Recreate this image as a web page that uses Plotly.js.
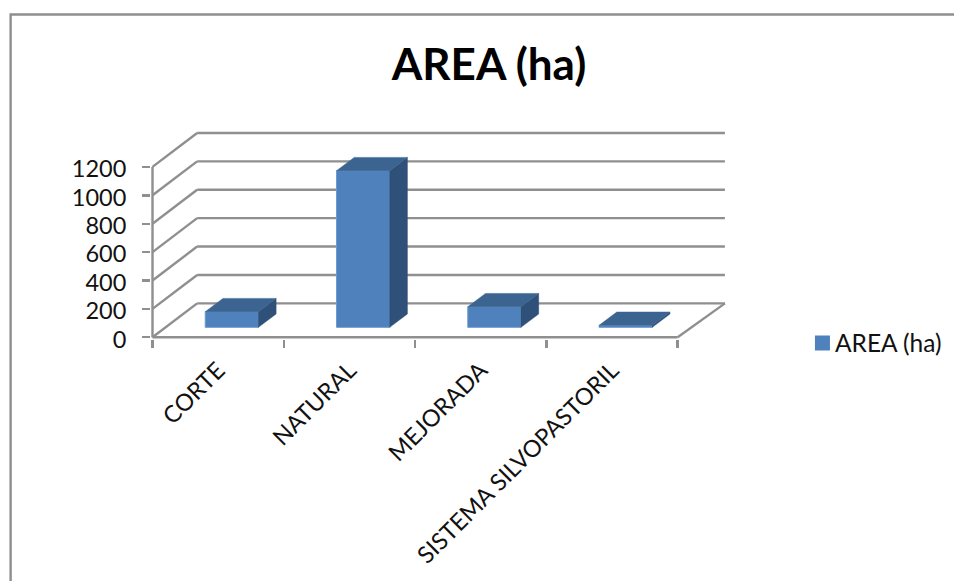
<!DOCTYPE html>
<html><head><meta charset="utf-8">
<script src="https://cdn.plot.ly/plotly-3.0.1.min.js"></script>
<style>html,body{margin:0;padding:0;background:#fff}#c{width:954px;height:581px}</style>
</head><body><div id="c"></div>
<script>
const categories = ["CORTE","NATURAL","MEJORADA","SISTEMA SILVOPASTORIL"];
const areaValues = [110,1103,145,14];
const yTicks = [0,200,400,600,800,1000,1200];
const seriesName = "AREA (ha)";

// pseudo-3D projection, in data units
const unitX = 131.4, unitY = 0.142;     // px per data unit
const wallDX = 0.34, wallDXRight = 0.36, wallDY = 239; // depth of the floor/walls
const barOffX = 0.104, barOffY = 70;    // front face of the bars, set back from the front plane
const barW = 0.405;
const barDX = 0.135, barDY = 94;        // bar depth
const nCat = categories.length;

const gridCol = '#8f8f8f';
const line = (x0,y0,x1,y1)=>({type:'line',xref:'x',yref:'y',x0,y0,x1,y1,layer:'below',line:{color:gridCol,width:2.4}});
const shapes = [];
yTicks.forEach(t=>{
  shapes.push(line(0,t,wallDX,t+wallDY));
  shapes.push(line(wallDX,t+wallDY,nCat+wallDXRight,t+wallDY));
});
shapes.push(line(0,0,0,yTicks[yTicks.length-1]));
shapes.push(line(0,0,nCat,0));
shapes.push(line(nCat,0,nCat+wallDXRight,wallDY));

const L=150.5,R=730,T=130,B=339;
const px=v=>(v-L)/(R-L);
const py=v=>(B-v)/(B-T);
// chart frame, cut by the window on the right and bottom
const frame = {type:'path',xref:'paper',yref:'paper',layer:'below',
  path:`M${px(10)},${py(590)}L${px(10)},${py(14.5)}L${px(960)},${py(14.5)}`,
  line:{color:'#8f8f8f',width:2.4}};
shapes.push(frame);

const centers = categories.map((_,i)=>i+0.5);
const lefts = centers.map(c=>c+barOffX-barW/2);

const front = {type:'bar',x:centers.map(c=>c+barOffX),y:areaValues,base:areaValues.map(()=>barOffY),
  width:barW,marker:{color:'#4f81bd',line:{color:'#6f9bd0',width:1}},showlegend:false,hoverinfo:'skip'};
const topFace = {type:'scatter',mode:'lines',fill:'toself',fillcolor:'#3b6491',line:{color:'#3b6491',width:0.5},showlegend:false,hoverinfo:'skip',x:[],y:[]};
const sideFace = {type:'scatter',mode:'lines',fill:'toself',fillcolor:'#2f5078',line:{color:'#2f5078',width:0.5},showlegend:false,hoverinfo:'skip',x:[],y:[]};
areaValues.forEach((v,i)=>{
  const x0=lefts[i],x1=x0+barW,y0=barOffY,y1=barOffY+v;
  topFace.x.push(x0,x1,x1+barDX,x0+barDX,x0,null);
  topFace.y.push(y1,y1,y1+barDY,y1+barDY,y1,null);
  sideFace.x.push(x1,x1+barDX,x1+barDX,x1,x1,null);
  sideFace.y.push(y0,y0+barDY,y1+barDY,y1,y0,null);
});
const legendKey = {type:'scatter',mode:'markers',x:[null],y:[null],name:seriesName,
  marker:{symbol:'square',size:15,color:'#4f81bd'},hoverinfo:'skip'};

const font='Lato, Carlito, sans-serif';
const layout = {
  width:954,height:581,paper_bgcolor:'#fff',plot_bgcolor:'rgba(0,0,0,0)',
  margin:{l:L,r:954-R,t:T,b:581-B,autoexpand:false},
  font:{family:font,color:'#111'},
  title:{text:seriesName,font:{family:font,size:44,color:'#000',weight:700},x:489/954,xanchor:'center',xref:'container',y:1-65/581,yanchor:'middle',yref:'container'},
  xaxis:{range:[(L-152)/unitX,(R-152)/unitX],showgrid:false,zeroline:false,showline:false,
    tickmode:'array',tickvals:centers,ticktext:categories,tickangle:-45,ticks:'',ticklabelstandoff:12,
    tickfont:{family:font,size:23.5,color:'#111'},
    minor:{tickmode:'array',tickvals:categories.map((_,i)=>i).concat([nCat]),ticks:'outside',ticklen:8,tickcolor:gridCol,tickwidth:2.4,showgrid:false}},
  yaxis:{range:[(B-337.3)/-unitY,(337.3-T)/unitY],showgrid:false,zeroline:false,showline:false,
    tickmode:'array',tickvals:yTicks,ticks:'outside',ticklen:8,tickcolor:gridCol,tickwidth:2.4,ticklabelstandoff:11,ticklabelshift:2,
    tickfont:{family:font,size:23.5,color:'#111'}},
  legend:{x:px(795),xref:'paper',y:py(343),yanchor:'middle',xanchor:'left',font:{family:font,size:24.5,color:'#111'},bgcolor:'rgba(0,0,0,0)',itemclick:false},
  showlegend:true,shapes:shapes
};
Plotly.newPlot('c',[front,sideFace,topFace,legendKey],layout,{displayModeBar:false,staticPlot:true}).then(()=>{
  const p=document.querySelector('#c .legend .legendpoints');
  if(p) p.setAttribute('transform','translate(7.5,0)');
});
</script></body></html>
